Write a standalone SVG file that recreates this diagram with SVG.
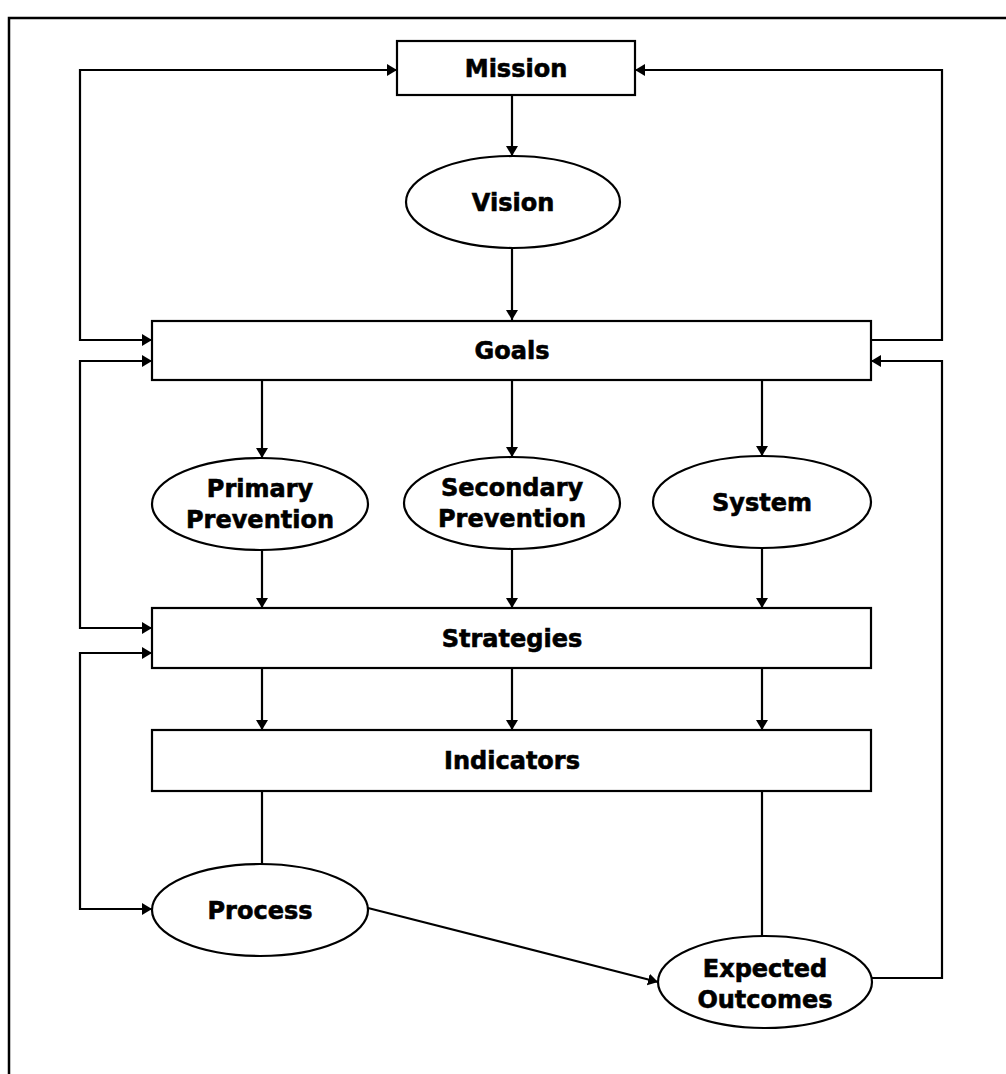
<svg xmlns="http://www.w3.org/2000/svg" width="1006" height="1074" viewBox="0 0 1006 1074">
<style>
.box{fill:#fff;stroke:#000;stroke-width:2.2}
.lbl{font-family:"DejaVu Sans","Verdana",sans-serif;font-weight:bold;font-size:24px;text-anchor:middle;fill:#000;stroke:#000;stroke-width:0.6}
.ln{fill:none;stroke:#000;stroke-width:2.2}
</style>
<defs>
<marker id="ah" viewBox="0 0 10 12" refX="10" refY="6" markerWidth="10" markerHeight="12" markerUnits="userSpaceOnUse" orient="auto-start-reverse">
<path d="M0,0 L10,6 L0,12 z" fill="#000"/>
</marker>
</defs>
<rect width="1006" height="1074" fill="#fff"/>
<path d="M9,1074 V18 H1006" fill="none" stroke="#000" stroke-width="2.5"/>
<g id="connectors">
<line class="ln" x1="512" y1="95" x2="512" y2="156" marker-end="url(#ah)"/>
<line class="ln" x1="512" y1="248" x2="512" y2="320" marker-end="url(#ah)"/>
<line class="ln" x1="262" y1="381" x2="262" y2="458" marker-end="url(#ah)"/>
<line class="ln" x1="512" y1="381" x2="512" y2="457" marker-end="url(#ah)"/>
<line class="ln" x1="762" y1="381" x2="762" y2="456" marker-end="url(#ah)"/>
<line class="ln" x1="262" y1="550" x2="262" y2="608" marker-end="url(#ah)"/>
<line class="ln" x1="512" y1="549" x2="512" y2="608" marker-end="url(#ah)"/>
<line class="ln" x1="762" y1="548" x2="762" y2="608" marker-end="url(#ah)"/>
<line class="ln" x1="262" y1="668" x2="262" y2="730" marker-end="url(#ah)"/>
<line class="ln" x1="512" y1="668" x2="512" y2="730" marker-end="url(#ah)"/>
<line class="ln" x1="762" y1="668" x2="762" y2="730" marker-end="url(#ah)"/>
<line class="ln" x1="262" y1="791" x2="262" y2="864"/>
<line class="ln" x1="762" y1="791" x2="762" y2="937"/>
<line class="ln" x1="368" y1="908" x2="658" y2="982" marker-end="url(#ah)"/>
<polyline class="ln" points="152,340 80,340 80,70 397,70" marker-start="url(#ah)" marker-end="url(#ah)"/>
<polyline class="ln" points="871,340 942,340 942,70 635,70" marker-end="url(#ah)"/>
<polyline class="ln" points="152,361 80,361 80,628 152,628" marker-start="url(#ah)" marker-end="url(#ah)"/>
<polyline class="ln" points="152,653 80,653 80,909 152,909" marker-start="url(#ah)" marker-end="url(#ah)"/>
<polyline class="ln" points="872,978 942,978 942,361 871,361" marker-end="url(#ah)"/>
</g>
<g id="mission"><rect class="box" x="397" y="41" width="238" height="54"/><text class="lbl" x="516" y="77">Mission</text></g>
<g id="vision"><ellipse class="box" cx="513" cy="202" rx="107" ry="46"/><text class="lbl" x="513" y="211">Vision</text></g>
<g id="goals"><rect class="box" x="152" y="321" width="719" height="59"/><text class="lbl" x="512" y="359">Goals</text></g>
<g id="primary"><ellipse class="box" cx="260" cy="504" rx="108" ry="46"/><text class="lbl" x="260" y="497">Primary</text><text class="lbl" x="260" y="528">Prevention</text></g>
<g id="secondary"><ellipse class="box" cx="512" cy="503" rx="108" ry="46"/><text class="lbl" x="512" y="496">Secondary</text><text class="lbl" x="512" y="527">Prevention</text></g>
<g id="system"><ellipse class="box" cx="762" cy="502" rx="109" ry="46"/><text class="lbl" x="762" y="511">System</text></g>
<g id="strategies"><rect class="box" x="152" y="608" width="719" height="60"/><text class="lbl" x="512" y="647">Strategies</text></g>
<g id="indicators"><rect class="box" x="152" y="730" width="719" height="61"/><text class="lbl" x="512" y="769">Indicators</text></g>
<g id="process"><ellipse class="box" cx="260" cy="910" rx="108" ry="46"/><text class="lbl" x="260" y="919">Process</text></g>
<g id="outcomes"><ellipse class="box" cx="765" cy="982" rx="107" ry="46"/><text class="lbl" x="765" y="977">Expected</text><text class="lbl" x="765" y="1008">Outcomes</text></g>
</svg>
